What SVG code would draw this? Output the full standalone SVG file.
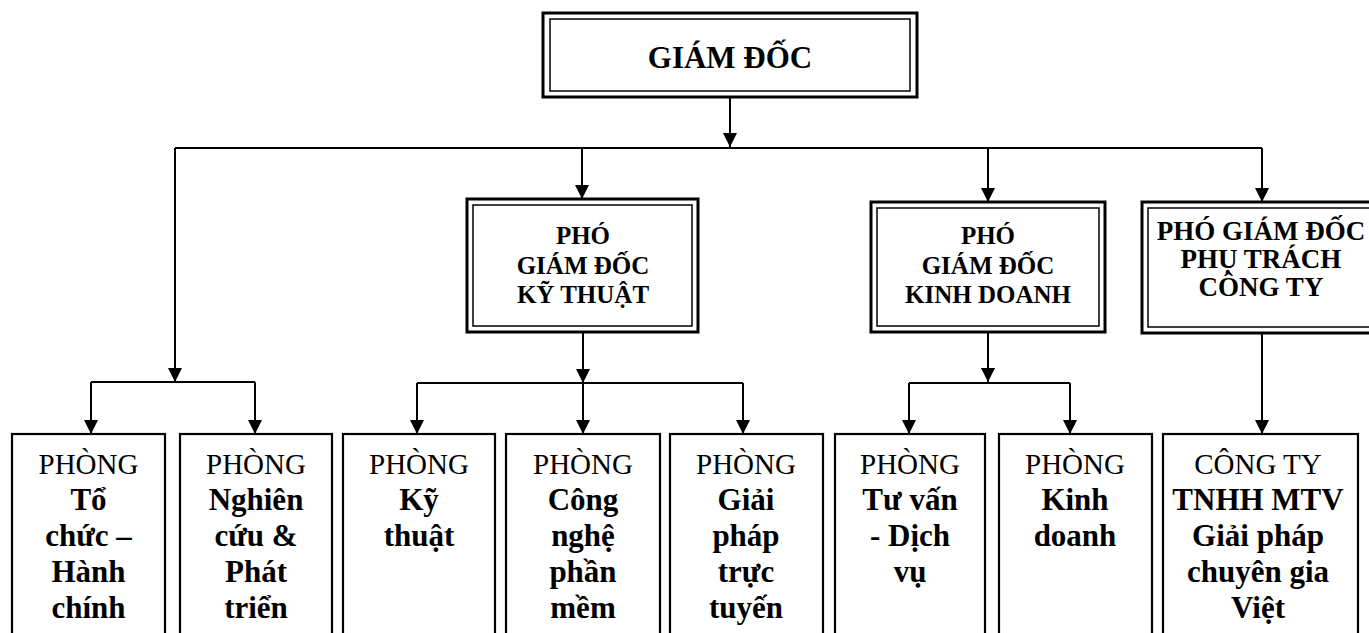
<svg xmlns="http://www.w3.org/2000/svg" width="1369" height="633" viewBox="0 0 1369 633">
<defs>
<marker id="arr" markerUnits="userSpaceOnUse" markerWidth="14" markerHeight="14" refX="14" refY="7" orient="auto">
<path d="M0,0 L14,7 L0,14 z" fill="#000"/>
</marker>
<style>
.o{fill:#fff;stroke:#000;stroke-width:3}
.i{fill:none;stroke:#000;stroke-width:1.5}
.b{fill:#fff;stroke:#000;stroke-width:2.2}
.c{fill:none;stroke:#000;stroke-width:2}
.a{fill:none;stroke:#000;stroke-width:2;marker-end:url(#arr)}
text{font-family:"Liberation Serif","Times New Roman",serif;text-anchor:middle;fill:#000}
.t1{font-size:31px;font-weight:bold}
.t2{font-size:25px;font-weight:bold}
.t2b{font-size:27px;font-weight:bold}
.t3{font-size:29px}
.bd{font-size:31px;font-weight:bold}
</style>
</defs>
<rect width="1369" height="633" fill="#fff"/>
<g id="connectors">
<path class="a" d="M730,97 V147"/>
<path class="c" d="M175,148 H1262"/>
<path class="a" d="M175,148 V382"/>
<path class="a" d="M582,148 V199"/>
<path class="a" d="M988,148 V202"/>
<path class="a" d="M1262,148 V202"/>
<path class="c" d="M91,382 H255"/>
<path class="a" d="M91,382 V434"/>
<path class="a" d="M255,382 V434"/>
<path class="a" d="M583,332 V383"/>
<path class="c" d="M417,383 H743"/>
<path class="a" d="M417,383 V434"/>
<path class="a" d="M583,383 V434"/>
<path class="a" d="M743,383 V434"/>
<path class="a" d="M988,332 V382"/>
<path class="c" d="M909,383 H1070"/>
<path class="a" d="M909,383 V434"/>
<path class="a" d="M1070,383 V434"/>
<path class="a" d="M1262,333 V434"/>
</g>
<g id="giam-doc">
<rect class="o" x="543" y="13" width="374" height="84"/>
<rect class="i" x="550" y="19" width="360" height="72"/>
<text class="t1" x="730" y="68">GIÁM ĐỐC</text>
</g>
<g id="pgd-kt">
<rect class="o" x="467" y="199" width="231" height="133"/>
<rect class="i" x="473" y="205" width="219" height="121"/>
<text class="t2" x="583" y="244">PHÓ</text>
<text class="t2" x="583" y="274">GIÁM ĐỐC</text>
<text class="t2" x="583" y="303">KỸ THUẬT</text>
</g>
<g id="pgd-kd">
<rect class="o" x="871" y="202" width="234" height="130"/>
<rect class="i" x="877" y="208" width="222" height="118"/>
<text class="t2" x="988" y="244">PHÓ</text>
<text class="t2" x="988" y="274">GIÁM ĐỐC</text>
<text class="t2" x="988" y="303">KINH DOANH</text>
</g>
<g id="pgd-pt">
<rect class="o" x="1142" y="202" width="240" height="131"/>
<rect class="i" x="1148" y="208" width="228" height="119"/>
<text class="t2b" x="1261" y="240">PHÓ GIÁM ĐỐC</text>
<text class="t2b" x="1261" y="268">PHỤ TRÁCH</text>
<text class="t2b" x="1261" y="296">CÔNG TY</text>
</g>
<g id="p-tchc">
<rect class="b" x="12" y="434" width="153" height="210"/>
<text class="t3" x="88.5" y="474">PHÒNG</text>
<text class="bd" x="88.5" y="510">Tổ</text>
<text class="bd" x="88.5" y="546">chức –</text>
<text class="bd" x="88.5" y="582">Hành</text>
<text class="bd" x="88.5" y="618">chính</text>
</g>
<g id="p-nc">
<rect class="b" x="180" y="434" width="152" height="210"/>
<text class="t3" x="256" y="474">PHÒNG</text>
<text class="bd" x="256" y="510">Nghiên</text>
<text class="bd" x="256" y="546">cứu &amp;</text>
<text class="bd" x="256" y="582">Phát</text>
<text class="bd" x="256" y="618">triển</text>
</g>
<g id="p-kt">
<rect class="b" x="343" y="434" width="152" height="210"/>
<text class="t3" x="419" y="474">PHÒNG</text>
<text class="bd" x="419" y="510">Kỹ</text>
<text class="bd" x="419" y="546">thuật</text>
</g>
<g id="p-cnpm">
<rect class="b" x="506" y="434" width="154" height="210"/>
<text class="t3" x="583" y="474">PHÒNG</text>
<text class="bd" x="583" y="510">Công</text>
<text class="bd" x="583" y="546">nghệ</text>
<text class="bd" x="583" y="582">phần</text>
<text class="bd" x="583" y="618">mềm</text>
</g>
<g id="p-gptt">
<rect class="b" x="670" y="434" width="153" height="210"/>
<text class="t3" x="746" y="474">PHÒNG</text>
<text class="bd" x="746" y="510">Giải</text>
<text class="bd" x="746" y="546">pháp</text>
<text class="bd" x="746" y="582">trực</text>
<text class="bd" x="746" y="618">tuyến</text>
</g>
<g id="p-tvdv">
<rect class="b" x="835" y="434" width="150" height="210"/>
<text class="t3" x="910" y="474">PHÒNG</text>
<text class="bd" x="910" y="510">Tư vấn</text>
<text class="bd" x="910" y="546">- Dịch</text>
<text class="bd" x="910" y="582">vụ</text>
</g>
<g id="p-kd">
<rect class="b" x="999" y="434" width="153" height="210"/>
<text class="t3" x="1075" y="474">PHÒNG</text>
<text class="bd" x="1075" y="510">Kinh</text>
<text class="bd" x="1075" y="546">doanh</text>
</g>
<g id="cty">
<rect class="b" x="1163" y="434" width="195" height="210"/>
<text class="t3" x="1258" y="474">CÔNG TY</text>
<text class="bd" x="1258" y="510">TNHH MTV</text>
<text class="bd" x="1258" y="546">Giải pháp</text>
<text class="bd" x="1258" y="582">chuyên gia</text>
<text class="bd" x="1258" y="618">Việt</text>
</g>
</svg>
